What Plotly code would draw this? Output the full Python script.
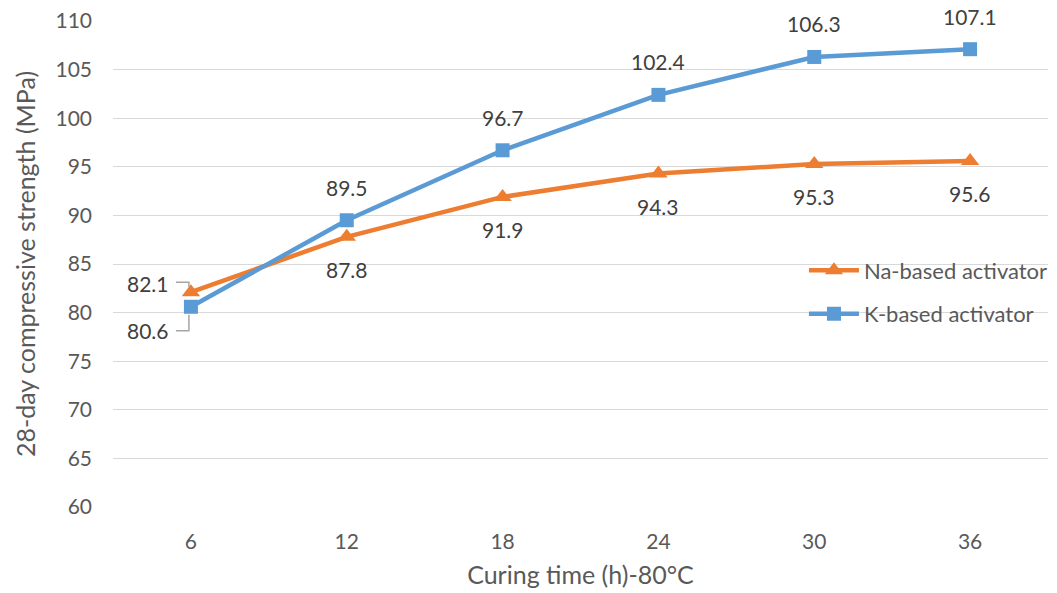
import plotly.graph_objects as go

curing_time = [6, 12, 18, 24, 30, 36]
na_strength = [82.1, 87.8, 91.9, 94.3, 95.3, 95.6]
k_strength = [80.6, 89.5, 96.7, 102.4, 106.3, 107.1]
y_ticks = [60, 65, 70, 75, 80, 85, 90, 95, 100, 105, 110]

ORANGE = "#ED7D31"
BLUE = "#5B9BD5"
TXT = "#595959"
LBL = "#404040"
FONT = "Lato, Carlito, Calibri, sans-serif"
LSIZE = 21

fig = go.Figure()
fig.add_trace(go.Scatter(
    x=curing_time, y=na_strength, mode="lines+markers", name="Na-based activator",
    line=dict(color=ORANGE, width=4.5), legendgroup="na",
    marker=dict(symbol="triangle-up", size=16, color=ORANGE)))
fig.add_trace(go.Scatter(
    x=curing_time, y=k_strength, mode="lines+markers", name="K-based activator",
    line=dict(color=BLUE, width=4.5), legendgroup="k",
    marker=dict(symbol="square", size=14, color=BLUE)))

ann = []
for i, (x, v) in enumerate(zip(curing_time, k_strength)):
    if i == 0:
        ann.append(dict(x=x, y=v, text=f"{v}", showarrow=False, xshift=-43, yshift=-24,
                        font=dict(size=LSIZE, color=LBL, family=FONT)))
    else:
        ann.append(dict(x=x, y=v, text=f"{v}", showarrow=False, yshift=33,
                        font=dict(size=LSIZE, color=LBL, family=FONT)))
for i, (x, v) in enumerate(zip(curing_time, na_strength)):
    if i == 0:
        ann.append(dict(x=x, y=v, text=f"{v}", showarrow=False, xshift=-43, yshift=9,
                        font=dict(size=LSIZE, color=LBL, family=FONT)))
    else:
        ann.append(dict(x=x, y=v, text=f"{v}", showarrow=False, yshift=-33,
                        font=dict(size=LSIZE, color=LBL, family=FONT)))

shapes = [
    dict(type="path", xref="x", yref="y", xsizemode="pixel", ysizemode="pixel",
         xanchor=curing_time[0], yanchor=na_strength[0],
         path="M -15,10 L -2,10 L -2,5", line=dict(color="#A6A6A6", width=1.5)),
    dict(type="path", xref="x", yref="y", xsizemode="pixel", ysizemode="pixel",
         xanchor=curing_time[0], yanchor=k_strength[0],
         path="M -15,-24 L -2,-24 L -2,-8", line=dict(color="#A6A6A6", width=1.5)),
]

fig.update_layout(
    width=1057, height=593,
    margin=dict(l=113, r=4, t=21, b=86),
    paper_bgcolor="white", plot_bgcolor="white",
    font=dict(family=FONT, color=TXT, size=21),
    annotations=ann, shapes=shapes,
    legend=dict(x=0.739, y=0.53, xanchor="left", yanchor="top", bgcolor="rgba(0,0,0,0)",
                font=dict(size=22, color=TXT, family=FONT), tracegroupgap=12, itemwidth=50),
    xaxis=dict(range=[3, 39], tickvals=curing_time, showgrid=False, zeroline=False,
               showline=False, ticks="", ticklabelstandoff=20,
               tickfont=dict(size=21, color=TXT),
               title=dict(text="Curing time (h)-80°C", font=dict(size=25, color=TXT), standoff=14)),
    yaxis=dict(range=[60, 110], tickvals=y_ticks, showgrid=True, gridcolor="#D9D9D9",
               gridwidth=1, zeroline=False, showline=False, ticks="", ticklabelstandoff=20,
               tickfont=dict(size=21, color=TXT),
               title=dict(text="28-day compressive strength (MPa)", font=dict(size=25, color=TXT),
                          standoff=12)),
)
fig.write_html("out.html")
